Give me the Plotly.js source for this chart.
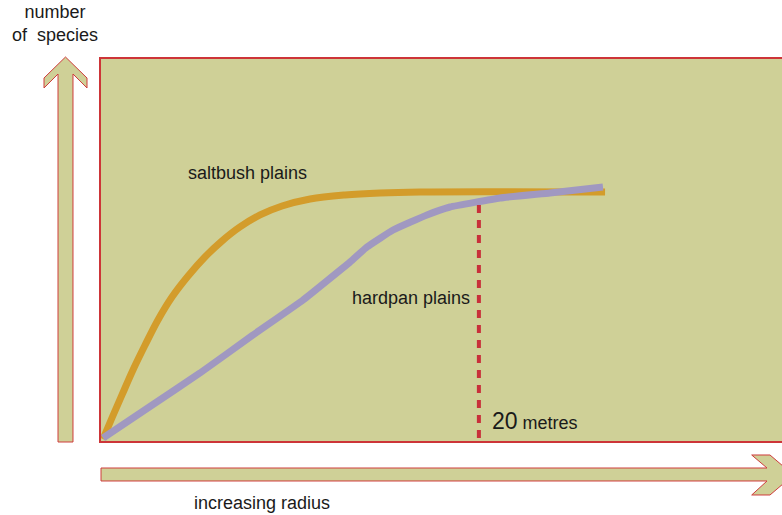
<!DOCTYPE html>
<html>
<head>
<meta charset="utf-8">
<script src="https://cdn.plot.ly/plotly-3.0.1.min.js"></script>
<style>html,body{margin:0;padding:0;background:#fff;}#chart{width:782px;height:515px;}</style>
</head>
<body>
<div id="chart"></div>
<script>
// ---- data (radius in metres, number of species) ----
const saltbushRadius  = [0.16, 0.63, 1.16, 1.74, 2.38, 3.06, 3.80, 4.65, 5.54, 6.44, 7.39, 8.45, 9.61, 11.09, 12.93, 14.78, 16.89, 26.66];
const saltbushSpecies = [0.31, 2.50, 4.90, 7.50, 10.10, 12.71, 15.10, 17.29, 19.27, 20.94, 22.40, 23.65, 24.58, 25.31, 25.73, 25.94, 26.04, 26.04];
const hardpanRadius   = [0.16, 2.64, 5.28, 8.08, 10.72, 13.20, 14.09, 15.47, 17.26, 18.48, 21.11, 23.75, 26.55];
const hardpanSpecies  = [0.42, 3.70, 7.19, 11.15, 14.79, 18.75, 20.31, 22.08, 23.65, 24.48, 25.42, 25.94, 26.56];
const markerRadius    = [20, 20];
const markerSpecies   = [24.7, 0];
const seriesNames     = ["saltbush plains", "hardpan plains"];
const markerLabel     = "20";
const markerUnit      = "metres";
const yAxisLabel      = "number<br>of\u00a0 species";
const xAxisLabel      = "increasing radius";

// ---- layout helpers (pixel -> paper) ----
const W = 782, H = 515, L = 100, T = 58, B = 73;
const PW = W - L, PH = H - T - B;
const px = x => (x - L) / PW;
const py = y => (H - B - y) / PH;
function path(pts) {
  return pts.map((p, i) => (i ? "L" : "M") + px(p[0]).toFixed(5) + "," + py(p[1]).toFixed(5)).join(" ") + " Z";
}

const olive = "#cfd097";
const red = "#cd3538";
const font = "Liberation Sans, Arial, Helvetica, sans-serif";
const txt = {family: font, size: 18, color: "#1a1a1a"};

const traces = [
  {x: saltbushRadius, y: saltbushSpecies, name: seriesNames[0], mode: "lines",
   line: {color: "#d39c2b", width: 7, shape: "spline", smoothing: 1}},
  {x: hardpanRadius, y: hardpanSpecies, name: seriesNames[1], mode: "lines",
   line: {color: "#a098c1", width: 7, shape: "spline", smoothing: 0.3}},
  {x: markerRadius, y: markerSpecies, mode: "lines",
   line: {color: "#c8303a", width: 4, dash: "8px,7px"}}
];

const upArrow = path([[65.5,57],[87,78],[87,88],[73,74],[73,442],[58,442],[58,74],[44,88],[44,78]]);
const rightArrow = path([[101,468],[767,468],[751.7,455],[770,455],[793.5,475],[770,495],[751.7,495],[767,481],[101,481]]);

const layout = {
  width: W, height: H,
  margin: {l: L, r: 0, t: T, b: B, pad: 0},
  paper_bgcolor: "#ffffff",
  plot_bgcolor: olive,
  showlegend: false,
  xaxis: {range: [0, 36], visible: false, fixedrange: true},
  yaxis: {range: [0, 40], visible: false, fixedrange: true},
  shapes: [
    {type: "rect", xref: "paper", yref: "paper", x0: 0, x1: 1.02, y0: 0, y1: 1,
     line: {color: red, width: 2}, fillcolor: "rgba(0,0,0,0)", layer: "above"},
    {type: "path", xref: "paper", yref: "paper", path: upArrow,
     fillcolor: olive, line: {color: "#cf3c3c", width: 1}},
    {type: "path", xref: "paper", yref: "paper", path: rightArrow,
     fillcolor: olive, line: {color: "#cf3c3c", width: 1}}
  ],
  annotations: [
    {xref: "paper", yref: "paper", x: px(247), y: py(173), text: seriesNames[0], showarrow: false,
     xanchor: "center", yanchor: "middle", font: txt},
    {xref: "paper", yref: "paper", x: px(411), y: py(298), text: seriesNames[1], showarrow: false,
     xanchor: "center", yanchor: "middle", font: txt},
    {xref: "paper", yref: "paper", x: px(490), y: py(421),
     text: '<span style="font-size:23px">' + markerLabel + '</span> ' + markerUnit, showarrow: false,
     xanchor: "left", yanchor: "middle", font: txt},
    {xref: "paper", yref: "paper", x: px(55), y: py(24), text: yAxisLabel, showarrow: false,
     xanchor: "center", yanchor: "middle", align: "center", font: txt},
    {xref: "paper", yref: "paper", x: px(261.5), y: py(503), text: xAxisLabel, showarrow: false,
     xanchor: "center", yanchor: "middle", font: txt}
  ]
};

Plotly.newPlot("chart", traces, layout, {displayModeBar: false, staticPlot: true});
</script>
</body>
</html>
